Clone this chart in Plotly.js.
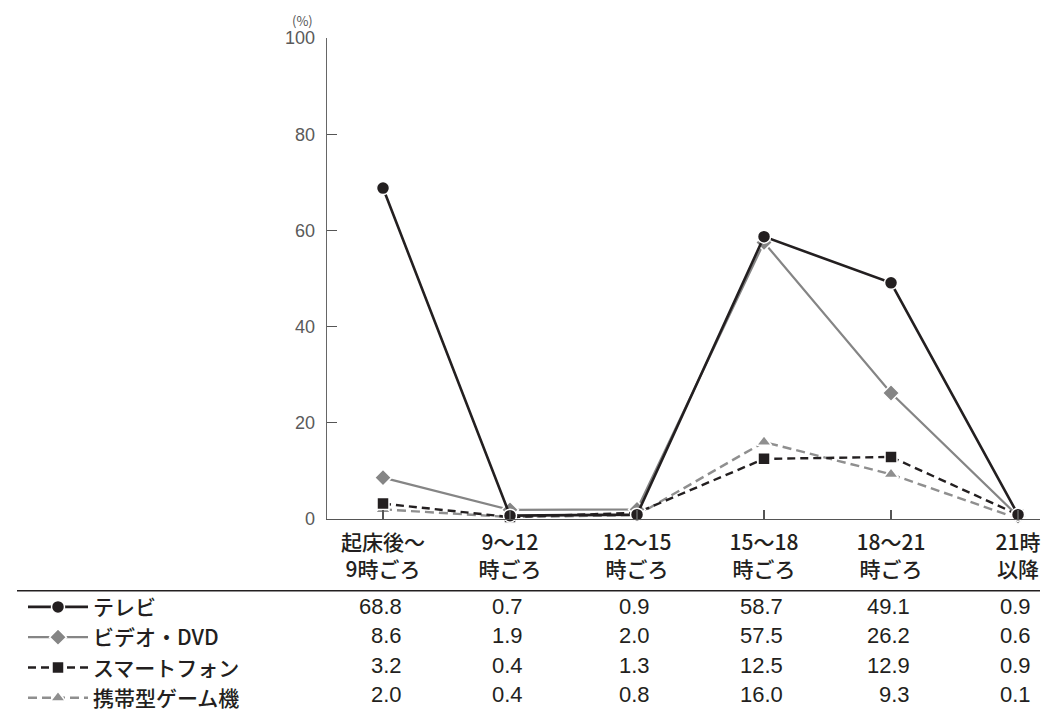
<!DOCTYPE html>
<html>
<head>
<meta charset="utf-8">
<script src="https://cdn.plot.ly/plotly-3.0.1.min.js"></script>
<style>html,body{margin:0;padding:0;background:#fff;}#chart{width:1041px;height:720px;}</style>
</head>
<body>
<div id="chart"></div>
<script>
// ---- data ----
const categories = ["起床後〜<br>9時ごろ", "9〜12<br>時ごろ", "12〜15<br>時ごろ", "15〜18<br>時ごろ", "18〜21<br>時ごろ", "21時<br>以降"];
const seriesNames = ["テレビ", "ビデオ・DVD", "スマートフォン", "携帯型ゲーム機"];
const tv      = [68.8, 0.7, 0.9, 58.7, 49.1, 0.9];
const video   = [8.6, 1.9, 2.0, 57.5, 26.2, 0.6];
const phone   = [3.2, 0.4, 1.3, 12.5, 12.9, 0.9];
const handheld= [2.0, 0.4, 0.8, 16.0, 9.3, 0.1];
const yTicks  = [0, 20, 40, 60, 80, 100];

// ---- layout geometry ----
const W = 1041, H = 720;
const mL = 327, mR = 1, mT = 38, mB = 192;
const plotH = H - mT - mB, plotW = W - mL - mR;
const pyToPaper = py => (H - mB - py) / plotH;
const pxToPaper = px => (px - mL) / plotW;

const black = "#231f20", grey = "#858585", grey2 = "#8f8f8f";

const seriesData = [tv, video, phone, handheld];
const styles = [
  {line:{color:black, width:2.6}, marker:{symbol:"circle", size:13, color:black}},
  {line:{color:grey, width:2.2}, marker:{symbol:"diamond", size:13, color:grey}},
  {line:{color:black, width:2.4, dash:"8px,5px"}, marker:{symbol:"square", size:12, color:black}},
  {line:{color:grey2, width:2.4, dash:"9px,5px"}, marker:{symbol:"triangle-up", size:13, color:grey2}}
];

const traces = seriesData.map((vals, i) => ({
  type: "scatter", mode: "lines+markers",
  x: categories, y: vals, name: seriesNames[i],
  line: styles[i].line,
  marker: Object.assign({}, styles[i].marker, {line:{color:"#fff", width:1.5}}),
  cliponaxis: false,
  hoverinfo: "skip",
  legendrank: i + 1
}));
// draw order: back to front
const ordered = [traces[3], traces[2], traces[1], traces[0]];

// ---- table annotations ----
const numFont = 22;
const textW = s => { let w = 0; for (const c of s) w += (c === ".") ? 0.278 : 0.556; return w * numFont; };
const rowY = [617, 647, 677, 707];
const annotations = [];
categories.forEach((cat, ci) => {
  const strs = seriesData.map(v => v[ci].toFixed(1));
  const maxW = Math.max(...strs.map(textW));
  strs.forEach((s, ri) => {
    annotations.push({
      xref: "x", yref: "paper", x: cat, y: pyToPaper(rowY[ri]),
      xanchor: "right", yanchor: "middle", xshift: maxW / 2,
      text: s, showarrow: false,
      font: {family: "Liberation Sans, Arial, sans-serif", size: numFont, color: black}
    });
  });
});
annotations.push({
  xref: "paper", yref: "paper", x: pxToPaper(302), y: pyToPaper(20),
  xanchor: "center", yanchor: "middle", text: "(%)", showarrow: false,
  font: {family: "Noto Sans CJK JP, sans-serif", size: 13, color: "#555"}
});

const layout = {
  width: W, height: H,
  margin: {l: mL, r: mR, t: mT, b: mB, pad: 0},
  paper_bgcolor: "#fff", plot_bgcolor: "#fff",
  showlegend: true,
  legend: {
    x: pxToPaper(23), y: pyToPaper(597), xanchor: "left", yanchor: "top",
    traceorder: "normal", itemwidth: 60,
    font: {family: "Noto Sans CJK JP, sans-serif", size: 21, color: black, weight: 500},
    bgcolor: "rgba(0,0,0,0)", itemclick: false
  },
  xaxis: {
    type: "category", range: [-0.441, 5.173],
    showline: true, linecolor: "#555", linewidth: 1.3,
    ticks: "inside", ticklen: 9, tickcolor: "#555", tickwidth: 1.2,
    showgrid: false, zeroline: false, fixedrange: true,
    tickfont: {family: "Noto Sans CJK JP, sans-serif", size: 21, color: black, weight: 500},
    ticklabelstandoff: 4
  },
  yaxis: {
    range: [0, 100], tickvals: yTicks,
    showline: true, linecolor: "#666", linewidth: 1.3,
    ticks: "inside", ticklen: 10, tickcolor: "#555", tickwidth: 1.2,
    showgrid: false, zeroline: false, fixedrange: true,
    tickfont: {family: "Liberation Sans, Arial, sans-serif", size: 18, color: "#5a5a5a"},
    ticklabelstandoff: 7
  },
  shapes: [{
    type: "line", xref: "paper", yref: "paper",
    x0: pxToPaper(17), x1: 1, y0: pyToPaper(601), y1: pyToPaper(601),
    line: {color: black, width: 1.5}
  }],
  annotations: annotations
};

Plotly.newPlot("chart", ordered, layout, {displayModeBar: false, staticPlot: true});
</script>
</body>
</html>
